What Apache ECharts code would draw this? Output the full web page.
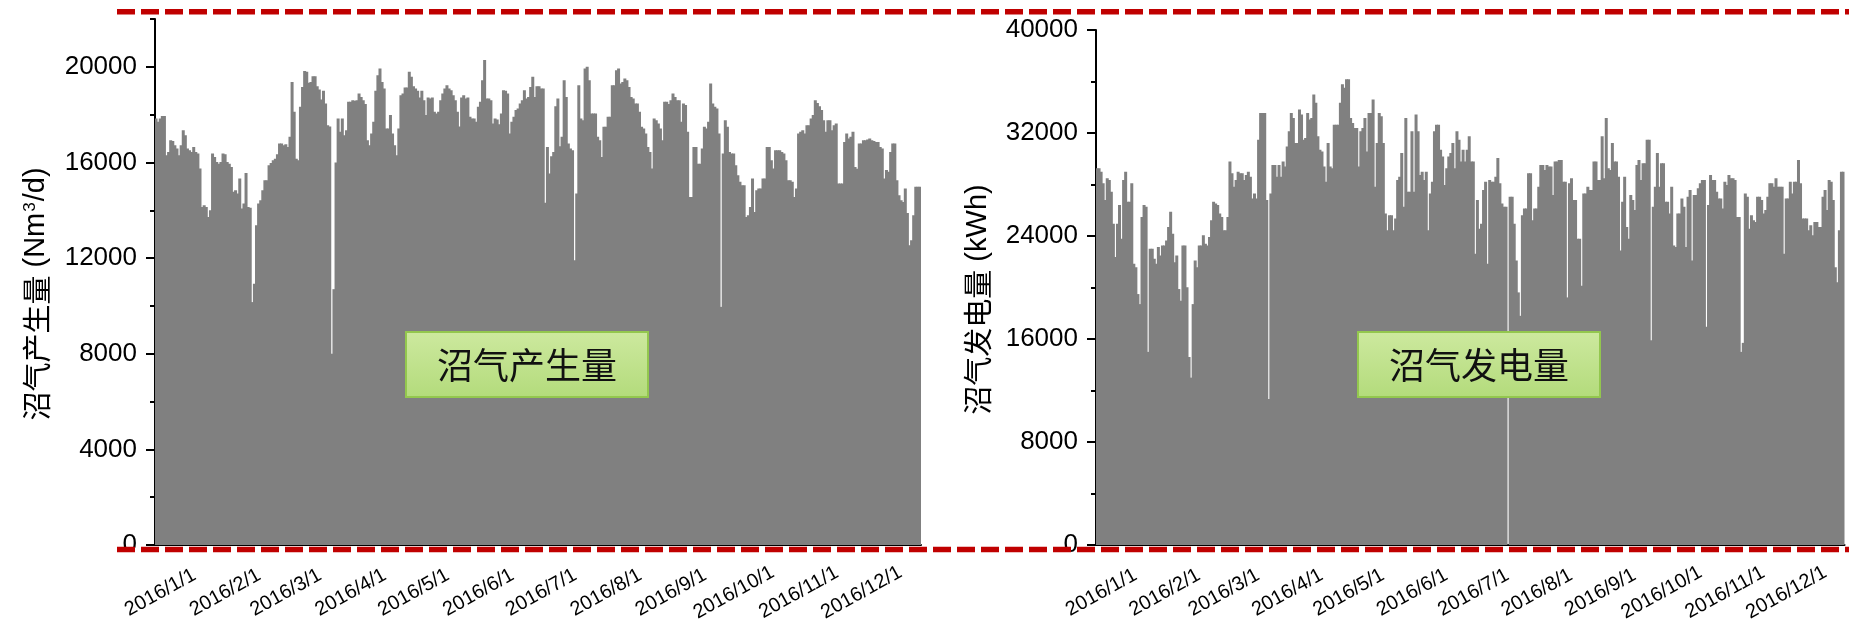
<!DOCTYPE html>
<html>
<head>
<meta charset="utf-8">
<script src="https://cdn.jsdelivr.net/npm/echarts@6/dist/echarts.min.js"></script>
<style>
  html, body { margin: 0; padding: 0; background: #ffffff; }
  #chart { width: 1849px; height: 630px; }
</style>
</head>
<body>
<div id="chart"></div>
<script>
// Month-start tick labels for both time axes
const monthLabels = ['2016/1/1', '2016/2/1', '2016/3/1', '2016/4/1', '2016/5/1', '2016/6/1',
                     '2016/7/1', '2016/8/1', '2016/9/1', '2016/10/1', '2016/11/1', '2016/12/1'];
const monthLengths = [31, 29, 31, 30, 31, 30, 31, 31, 30, 31, 30, 31];

// One category per calendar day of 2016
const days = [];
monthLengths.forEach(function (n, m) {
  for (let d = 1; d <= n; d++) days.push('2016/' + (m + 1) + '/' + d);
});
const midMonthDays = days.filter(function (s) { return s.endsWith('/15'); });

// Daily biogas production, Nm3/d
const biogas = [
  17840, 17700, 17840, 17940, 17940, 16300, 16440, 16930, 16900, 16720,
  16580, 16300, 16720, 17350, 17140, 16580, 16510, 16440, 16650, 16440,
  16370, 15750, 14140, 14210, 14140, 13720, 14000, 16370, 16230, 16020,
  15950, 16020, 16370, 16340, 16020, 15950, 15810, 14770, 14840, 14700,
  15330, 14070, 14280, 15560, 14140, 14110, 10160, 10930, 13370, 14280,
  14420, 14840, 15260, 15260, 15880, 15980, 16090, 16160, 16340, 16790,
  16790, 16720, 16760, 16650, 17070, 19370, 18120, 16160, 16090, 18330,
  19160, 19830, 19790, 19330, 19370, 19610, 19610, 19190, 19050, 18630,
  19000, 18470, 17560, 17500, 8000, 10700, 16000, 17840, 17280, 17840,
  17140, 17350, 18540, 18540, 18600, 18580, 18600, 18880, 18740, 18600,
  18440, 16930, 16720, 17210, 17700, 19000, 19650, 19930, 19370, 19090,
  17420, 17420, 17980, 17210, 16720, 16300, 17420, 18810, 18880, 19140,
  19140, 19790, 19580, 19190, 19090, 19000, 18720, 19000, 18600, 17980,
  18720, 18680, 18720, 18120, 18050, 18120, 18600, 18880, 19090, 19230,
  19090, 19020, 18810, 18600, 18120, 17500, 18720, 18810, 18680, 18720,
  17910, 17840, 17840, 17700, 18330, 18540, 19440, 20280, 18680, 18680,
  18600, 17630, 17840, 17800, 17600, 18050, 19020, 19000, 18880, 17210,
  17700, 17910, 18190, 18260, 18470, 18600, 19020, 18670, 18740, 19160,
  19580, 18740, 19190, 19190, 19090, 19090, 14310, 16650, 15540, 16260,
  16440, 18350, 18670, 16680, 17070, 19440, 18740, 16790, 16580, 16510,
  11910, 14700, 19230, 17840, 17770, 19930, 20000, 19440, 18050, 18050,
  18050, 17070, 16930, 16230, 17490, 17490, 17910, 17910, 19230, 19230,
  19860, 19930, 19300, 19370, 19510, 19440, 19160, 18740, 18670, 18470,
  18470, 18120, 17490, 17420, 17210, 16650, 16440, 15750, 17840, 17770,
  17630, 17420, 16930, 18540, 18540, 18440, 18600, 18880, 18740, 18600,
  18600, 17700, 18470, 18400, 17280, 14560, 14560, 16650, 16650, 15950,
  15950, 16580, 17490, 17420, 17700, 19300, 18470, 18330, 18260, 17210,
  9960, 16370, 17770, 17490, 16440, 16370, 16370, 15880, 15470, 15190,
  15050, 15050, 13720, 13790, 14140, 15330, 13930, 14840, 14910, 14910,
  15330, 15330, 16650, 16650, 16090, 15750, 16510, 16510, 16510, 16440,
  16370, 16090, 15260, 15260, 15190, 14560, 14910, 17210, 17280, 17350,
  17210, 17560, 17560, 17840, 17980, 18600, 18490, 18350, 18190, 17770,
  17280, 17770, 17770, 17350, 17560, 17630, 15120, 15120, 15120, 16860,
  17210, 17000, 17070, 17280, 15810, 15740, 16790, 16790, 16930, 16930,
  16960, 17000, 16930, 16900, 16860, 16860, 16650, 16580, 15330, 15680,
  15610, 16440, 16790, 16790, 15260, 14630, 14420, 14350, 14910, 13890,
  12540, 12750, 13790, 14980, 14980, 14980
];

// Daily electricity generated from biogas, kWh
const power = [
  29260, 29260, 29000, 28090, 26790, 28480, 28350, 27440, 24960, 22360,
  24960, 26400, 23790, 28350, 29000, 26660, 26660, 28090, 21840, 21580,
  19490, 18710, 25480, 26400, 26270, 15000, 23010, 23010, 22230, 21840,
  23140, 22490, 23270, 23270, 23660, 24700, 25880, 24180, 21970, 22490,
  19880, 18970, 23270, 23270, 20010, 14600, 13000, 18710, 22100, 21580,
  23270, 23270, 24050, 23400, 23270, 23920, 25220, 26660, 26530, 26400,
  25750, 25480, 24440, 24440, 25480, 29780, 28870, 27830, 28350, 29000,
  28870, 28870, 28350, 28740, 29000, 28610, 26920, 27310, 26920, 31480,
  33560, 33560, 33560, 26790, 11340, 27310, 29520, 29520, 28610, 29520,
  28610, 29780, 29390, 30960, 32130, 33560, 33170, 31220, 31220, 33820,
  33430, 31480, 31610, 33560, 33040, 33170, 35000, 34350, 31740, 30700,
  30570, 29390, 28220, 31220, 29390, 29260, 32650, 32650, 32650, 34350,
  35780, 35520, 36170, 36170, 33170, 32780, 32390, 32390, 29390, 32130,
  32390, 33170, 30570, 33560, 33560, 34610, 27830, 31220, 33560, 33300,
  31220, 25750, 24440, 25610, 25610, 24440, 25350, 28350, 28610, 30440,
  26270, 33170, 27440, 27440, 32130, 27440, 33430, 32130, 28740, 29000,
  28350, 29000, 24440, 27310, 28220, 32130, 32650, 32650, 30700, 30180,
  27960, 29260, 30180, 30440, 31220, 29260, 32130, 31480, 29780, 30700,
  29780, 30700, 31740, 29780, 29780, 22620, 26790, 24570, 24960, 27570,
  28220, 21840, 28350, 28220, 28220, 28610, 30050, 28090, 26530, 26270,
  26270, 0, 27050, 27050, 24960, 22100, 19620, 17800, 25610, 26140,
  26140, 28870, 28870, 25220, 26140, 26140, 27830, 29520, 29520, 29130,
  29520, 29390, 29390, 27180, 29780, 29780, 29910, 29910, 28220, 28220,
  19230, 28090, 28480, 26790, 26790, 23790, 23790, 20140, 27310, 27310,
  27830, 27570, 27570, 29780, 29780, 28350, 28350, 31740, 28480, 33170,
  29260, 29130, 31220, 29780, 29780, 28610, 22880, 26660, 28610, 24700,
  23790, 27180, 26790, 26010, 29520, 29910, 28350, 29650, 29650, 31480,
  31480, 15900, 26270, 27830, 30440, 27830, 29650, 29650, 26660, 26660,
  25750, 27830, 23270, 23140, 25750, 25750, 26920, 26270, 23140, 27050,
  27570, 22100, 27180, 27180, 27700, 28090, 28350, 28350, 16950, 26400,
  28740, 28350, 28350, 27440, 26920, 26920, 26140, 28220, 27960, 28740,
  28480, 28480, 28350, 25480, 25480, 15000, 15700, 27310, 27050, 24570,
  25610, 25220, 25090, 27050, 27050, 26790, 25750, 26010, 27050, 28090,
  28090, 27830, 28480, 27830, 27830, 27830, 22620, 26920, 26920, 28220,
  27310, 28220, 28220, 29910, 28090, 25350, 25350, 25350, 24440, 24830,
  24050, 25090, 25090, 24700, 24700, 27050, 27570, 26010, 28350, 28220,
  26790, 21580, 20410, 24440, 29000, 29000
];

const FONT = "'Liberation Sans', Arial, 'Noto Sans CJK SC', sans-serif";
const CJK = "'Noto Sans CJK SC', sans-serif";
const BAR_COLOR = '#808080';
const DASH_RED = '#C00000';

// Major ticks + labels at month starts, plus a second axis carrying the shorter mid-month ticks
function dayAxes(gridIndex) {
  return [
    {
      type: 'category', gridIndex: gridIndex, data: days, boundaryGap: true, position: 'bottom',
      axisLine: { show: true, onZero: false, lineStyle: { color: '#000', width: 2 } },
      axisTick: {
        interval: function (i, v) { return monthLabels.indexOf(v) >= 0; },
        length: 8, lineStyle: { color: '#000', width: 2 }
      },
      axisLabel: {
        interval: function (i, v) { return monthLabels.indexOf(v) >= 0; },
        rotate: 29, align: 'center', verticalAlign: 'middle', margin: 50,
        padding: [0, 0, 0, 10],
        fontSize: 20, color: '#000', fontFamily: FONT
      },
      splitLine: { show: false }
    },
    {
      type: 'category', gridIndex: gridIndex, data: days, boundaryGap: true, position: 'bottom',
      axisLine: { show: false, onZero: false },
      axisTick: {
        interval: function (i, v) { return midMonthDays.indexOf(v) >= 0; },
        length: 5, lineStyle: { color: '#000', width: 2 }
      },
      axisLabel: { show: false },
      splitLine: { show: false }
    }
  ];
}

function valueAxes(gridIndex, max, major, minor, name, nameRich) {
  return [
    {
      type: 'value', gridIndex: gridIndex, position: 'left', min: 0, max: max, interval: major,
      name: name, nameLocation: 'middle', nameGap: 104,
      nameTextStyle: {
        fontSize: 29, color: '#000', fontFamily: FONT, padding: [0, 24, 0, 0],
        rich: nameRich
      },
      axisLine: { show: true, lineStyle: { color: '#000', width: 2 } },
      axisTick: { show: true, length: 9, lineStyle: { color: '#000', width: 2 } },
      axisLabel: {
        fontSize: 26, color: '#000', fontFamily: FONT, margin: 18,
        showMaxLabel: max % major === 0,
        formatter: function (v) { return String(v); }
      },
      splitLine: { show: false }
    },
    {
      type: 'value', gridIndex: gridIndex, position: 'left', min: 0, max: max, interval: minor,
      axisLine: { show: false },
      axisTick: { show: true, length: 5, lineStyle: { color: '#000', width: 2 } },
      axisLabel: { show: false },
      splitLine: { show: false }
    }
  ];
}

const supRich = {
  cjk: { fontSize: 29, fontFamily: CJK, color: '#000' },
  sup: { fontSize: 17, fontFamily: FONT, color: '#000', verticalAlign: 'top', padding: [0, 1, 12, 1] }
};

// Green caption box drawn over the bars
function labelBox(x, y, text) {
  return {
    type: 'group', left: x, top: y, silent: true, z: 100,
    children: [
      {
        type: 'rect', z: 100, shape: { x: 0, y: 0, width: 242, height: 65 },
        style: {
          fill: { type: 'linear', x: 0, y: 0, x2: 0, y2: 1,
                  colorStops: [{ offset: 0, color: '#CDE99F' }, { offset: 1, color: '#B3DB7B' }] },
          stroke: '#93C74E', lineWidth: 2
        }
      },
      {
        type: 'text', z: 101, x: 121, y: 33,
        style: { text: text, fontSize: 36, fontFamily: CJK, fill: '#111', align: 'center', verticalAlign: 'middle' }
      }
    ]
  };
}

function dashedRule(y) {
  return {
    type: 'line', silent: true, z: 90,
    shape: { x1: 117, y1: y, x2: 1849, y2: y },
    style: { stroke: DASH_RED, lineWidth: 5.5, lineDash: [18, 6] }
  };
}

// Bars slightly wider than a day so neighbouring days join without hairline seams
const barStyle = { color: BAR_COLOR };

const chart = echarts.init(document.getElementById('chart'), null, { renderer: 'canvas' });

chart.setOption({
  animation: false,
  backgroundColor: '#ffffff',
  grid: [
    { left: 155, top: 19, right: 928, bottom: 85, containLabel: false, outerBoundsMode: 'none' },
    { left: 1096, top: 30, right: 4.5, bottom: 85, containLabel: false, outerBoundsMode: 'none' }
  ],
  xAxis: dayAxes(0).concat(dayAxes(1)),
  yAxis: valueAxes(0, 22000, 4000, 2000, '{cjk|沼气产生量} (Nm{sup|3}/d)', supRich)
    .concat(valueAxes(1, 40000, 8000, 4000, '{cjk|沼气发电量} (kWh)', supRich)),
  series: [
    {
      name: '沼气产生量', type: 'bar', xAxisIndex: 0, yAxisIndex: 0, data: biogas,
      barWidth: 3, itemStyle: barStyle, z: 2
    },
    {
      name: '沼气发电量', type: 'bar', xAxisIndex: 2, yAxisIndex: 2, data: power,
      barWidth: 3, itemStyle: barStyle, z: 2
    }
  ],
  graphic: [
    dashedRule(11.7),
    dashedRule(549.5),
    labelBox(405, 331, '沼气产生量'),
    labelBox(1357, 331, '沼气发电量')
  ]
});
</script>
</body>
</html>
